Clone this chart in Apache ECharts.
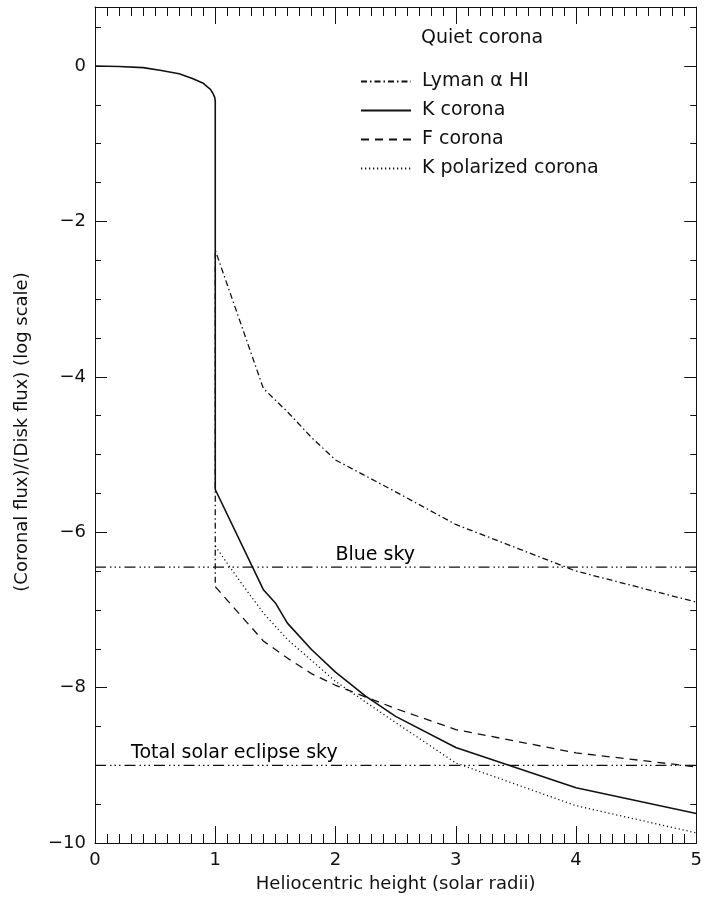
<!DOCTYPE html>
<html><head><meta charset="utf-8">
<script src="https://cdn.jsdelivr.net/npm/echarts@6/dist/echarts.min.js"></script>
<style>html,body{margin:0;padding:0;background:#fff}#c{width:705px;height:907px}</style>
</head><body><div id="c"></div>
<script>
// Disk (photosphere) profile, then K corona
const diskX = [0, 0.2, 0.4, 0.54, 0.7, 0.81, 0.9, 0.92, 0.96, 0.98, 0.995, 1.0];
const diskY = [0, -0.005, -0.02, -0.055, -0.10, -0.16, -0.22, -0.25, -0.30, -0.35, -0.40, -0.45];
const kX = [1.0, 1.4, 1.5, 1.6, 1.8, 2.0, 2.25, 2.5, 3.0, 4.0, 5.0];
const kY = [-5.45, -6.74, -6.91, -7.17, -7.51, -7.80, -8.11, -8.37, -8.77, -9.29, -9.62];
const lymanX = [1.0, 1.0, 1.4, 1.6, 1.8, 2.0, 2.5, 3.0, 4.0, 5.0];
const lymanY = [-6.65, -2.37, -4.15, -4.45, -4.78, -5.07, -5.48, -5.90, -6.50, -6.90];
const fX = [1.0, 1.2, 1.4, 1.6, 1.8, 2.0, 2.5, 3.0, 4.0, 5.0];
const fY = [-6.70, -7.05, -7.40, -7.62, -7.82, -7.97, -8.27, -8.54, -8.84, -9.02];
const kpX = [1.0, 1.2, 1.4, 1.6, 1.8, 2.0, 2.5, 3.0, 4.0, 5.0];
const kpY = [-6.18, -6.62, -7.04, -7.38, -7.65, -7.92, -8.45, -8.97, -9.52, -9.87];
const skyNames = ['Blue sky', 'Total solar eclipse sky'];
const skyY = [-6.45, -9.0];
const skyLabelX = [2.0, 0.3];
const seriesNames = ['Lyman \u03b1 HI', 'K corona', 'F corona', 'K polarized corona'];
const xTicks = [0, 1, 2, 3, 4, 5];
const yTicks = [-10, -8, -6, -4, -2, 0];

const zip = (xs, ys) => xs.map((x, i) => [x, ys[i]]);
const FONT = 'DejaVu Sans';
const INK = '#111';

const chart = echarts.init(document.getElementById('c'), null, {renderer: 'canvas'});

const fmtY = v => (v < 0 ? '\u2212' + Math.abs(v) : String(v));

function yAx(pos, major) {
  return {
    type: 'value', position: pos, min: yTicks[0], max: 0.76,
    interval: major ? 2 : 0.5,
    axisLine: {show: major, onZero: false, lineStyle: {color: INK, width: 1}},
    axisTick: {show: true, inside: true, length: major ? 12 : 6, lineStyle: {color: INK, width: 1}},
    axisLabel: {show: major && pos === 'left', formatter: fmtY, showMaxLabel: false,
      fontFamily: FONT, fontSize: 18, color: INK, margin: 9},
    splitLine: {show: false},
    name: (major && pos === 'left') ? '(Coronal flux)/(Disk flux) (log scale)' : '',
    nameLocation: 'middle', nameGap: 64, nameRotate: 90,
    nameTextStyle: {fontFamily: FONT, fontSize: 18, color: INK, padding: [0, 14, 0, 0]}
  };
}
function xAx(pos) {
  return {
    type: 'value', position: pos, min: xTicks[0], max: xTicks[xTicks.length - 1], interval: 1,
    axisLine: {show: true, onZero: false, lineStyle: {color: INK, width: 1}},
    axisTick: {show: true, inside: true, length: 17, lineStyle: {color: INK, width: 1}},
    minorTick: {show: true, splitNumber: 10, length: 9, lineStyle: {color: INK, width: 1}},
    axisLabel: {show: pos === 'bottom', fontFamily: FONT, fontSize: 18, color: INK, margin: 8},
    splitLine: {show: false},
    name: pos === 'bottom' ? 'Heliocentric height (solar radii)' : '',
    nameLocation: 'middle', nameGap: 32,
    nameTextStyle: {fontFamily: FONT, fontSize: 18, color: INK}
  };
}

const lineW = 1.3;
const series = [
  {name: seriesNames[0], type: 'line', data: zip(lymanX, lymanY), symbol: 'none',
   lineStyle: {color: INK, width: lineW, type: [6, 3, 1.5, 3]}, itemStyle: {color: INK}, z: 3},
  {name: seriesNames[1], type: 'line', data: zip(diskX, diskY).concat(zip(kX, kY)), symbol: 'none',
   lineStyle: {color: INK, width: lineW + 0.3, type: 'solid'}, itemStyle: {color: INK}, z: 4},
  {name: seriesNames[2], type: 'line', data: zip(fX, fY), symbol: 'none',
   lineStyle: {color: INK, width: lineW, type: [8, 6]}, itemStyle: {color: INK}, z: 3},
  {name: seriesNames[3], type: 'line', data: zip(kpX, kpY), symbol: 'none',
   lineStyle: {color: INK, width: lineW, type: [1.2, 2.8]}, itemStyle: {color: INK}, z: 3}
];
skyY.forEach((y, i) => {
  series.push({name: skyNames[i], type: 'line', data: [[xTicks[0], y], [xTicks[xTicks.length - 1], y]],
    symbol: 'none', lineStyle: {color: INK, width: lineW, type: [11, 4, 1.5, 3, 1.5, 3, 1.5, 4]}, z: 2});
  series.push({name: skyNames[i] + ' label', type: 'scatter', data: [[skyLabelX[i], y]], symbolSize: 0,
    itemStyle: {color: INK, opacity: 1},
    label: {show: true, formatter: skyNames[i], position: [0, -22], fontFamily: FONT, fontSize: 19,
      color: '#000', opacity: 1, textBorderWidth: 0},
    silent: true, z: 5});
});

chart.setOption({
  backgroundColor: '#fff',
  animation: false,
  grid: {left: 95, right: 5, top: 7, bottom: 64, containLabel: false},
  xAxis: [xAx('bottom'), xAx('top')],
  yAxis: [yAx('left', true), yAx('left', false), yAx('right', true), yAx('right', false)],
  legend: {
    show: true,
    data: seriesNames, orient: 'vertical', left: 355, top: 67,
    itemWidth: 50, itemHeight: 12, itemGap: 10,
    itemStyle: {opacity: 0},
    textStyle: {fontFamily: FONT, fontSize: 19, color: INK, padding: [0, 0, 0, 6]},
    selectedMode: false
  },
  graphic: [{type: 'text', left: 421, top: 29,
    style: {text: 'Quiet corona', font: '19px "DejaVu Sans"', fill: INK}}],
  series: series
});
</script></body></html>
